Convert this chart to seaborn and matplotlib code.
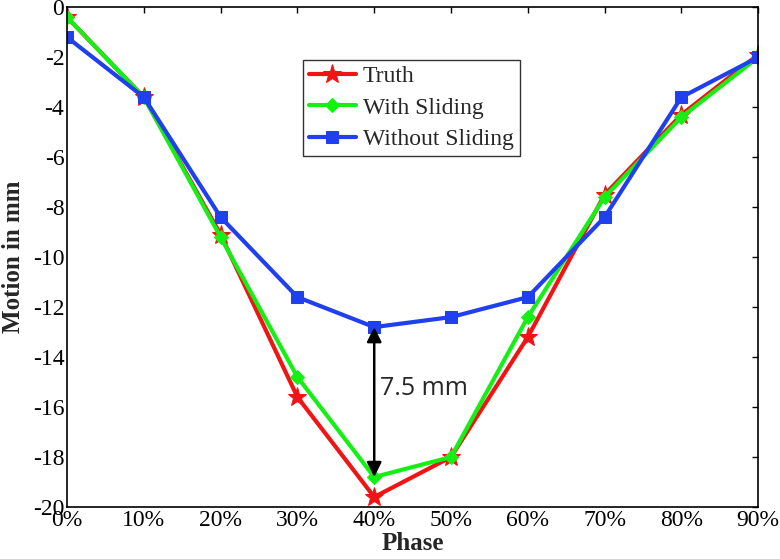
import pandas as pd
import matplotlib
matplotlib.use("Agg")
import matplotlib.pyplot as plt
import seaborn as sns

sns.set_theme(style='white', context='notebook')
plt.rcParams['font.family'] = ['Liberation Serif', 'DejaVu Serif']
plt.rcParams['axes.unicode_minus'] = False

# Data
Phases = ['0%', '10%', '20%', '30%', '40%', '50%', '60%', '70%', '80%', '90%']
Truth = [-0.4, -3.6, -9.1, -15.6, -19.6, -18.0, -13.2, -7.5, -4.3, -1.9]
WithSliding = [-0.4, -3.6, -9.2, -14.8, -18.8, -18.0, -12.4, -7.6, -4.4, -2.0]
WithoutSliding = [-1.2, -3.6, -8.4, -11.6, -12.8, -12.4, -11.6, -8.4, -3.6, -2.0]
ArrowFrom, ArrowTo = -12.8, -18.8
ArrowLabel = '7.5 mm'

series = {'Truth': Truth, 'With Sliding': WithSliding, 'Without Sliding': WithoutSliding}
rows = []
for name, vals in series.items():
    for i, v in enumerate(vals):
        rows.append({'Phase': i, 'Motion': v, 'Method': name})
df = pd.DataFrame(rows)

palette = {'Truth': '#f01414', 'With Sliding': '#14f014', 'Without Sliding': '#2040f0'}
markers = {'Truth': '*', 'With Sliding': 'D', 'Without Sliding': 's'}
msizes = {'Truth': 14, 'With Sliding': 7, 'Without Sliding': 8}

fig = plt.figure(figsize=(7.8, 5.59), dpi=100)
ax = fig.add_axes([0.086, 0.093, 0.886, 0.894])

for name in series:
    sns.lineplot(ax=ax, data=df[df['Method'] == name], x='Phase', y='Motion',
                 color=palette[name], marker=markers[name], markersize=msizes[name],
                 markeredgecolor=palette[name], linewidth=3, label=name)

# Double-headed arrow at 40%
ax.annotate('', xy=(4, ArrowTo), xytext=(4, ArrowFrom),
            arrowprops=dict(arrowstyle='<|-|>', color='black', lw=1.8,
                            mutation_scale=22, shrinkA=0, shrinkB=0))
ax.text(4.08, -15.25, ArrowLabel, fontsize=18, family=['Open Sans', 'DejaVu Sans'],
        va='center', ha='left')

ax.set_xlim(0, 9)
ax.set_ylim(-20, 0)
ax.set_xticks(range(len(Phases)))
ax.set_xticklabels(Phases)
ax.set_yticks(range(-20, 1, 2))
ax.tick_params(direction='in', length=4, width=1, top=True, right=True,
               labelsize=17, colors='black', pad=2)
for s in ax.spines.values():
    s.set_color('black')
    s.set_linewidth(1.2)

ax.set_xlabel('Phase', fontsize=18, fontweight='bold')
ax.set_ylabel('Motion in mm', fontsize=18, fontweight='bold')
ax.xaxis.set_label_coords(0.5, -0.05)
ax.yaxis.set_label_coords(-0.061, 0.5)

leg = ax.legend(loc='upper left', bbox_to_anchor=(0.341, 0.895), fontsize=17,
                frameon=True, fancybox=False, edgecolor='black', handlelength=2.0,
                handletextpad=0.3, borderpad=0.25, labelspacing=0.42, borderaxespad=0)
leg.get_frame().set_linewidth(1.0)

plt.savefig('out.png', dpi=100)
